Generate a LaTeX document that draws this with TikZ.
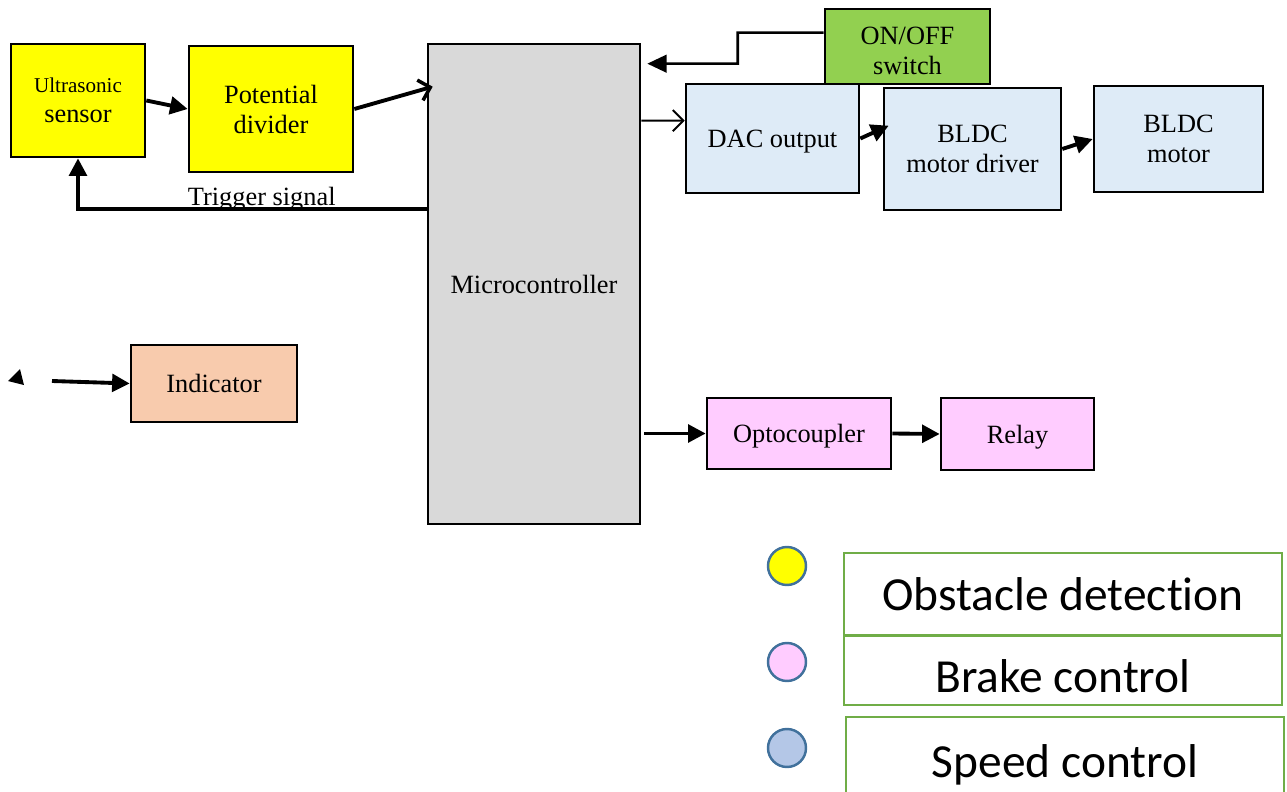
\documentclass[tikz,border=0pt]{standalone}
\usepackage{fontspec}
\setmainfont{Liberation Serif}
\newfontfamily\legendfont[Ligatures=NoCommon]{Carlito}
\usetikzlibrary{arrows.meta, positioning, calc}
\definecolor{sensyellow}{RGB}{255, 255, 0}
\definecolor{mcugray}{RGB}{217, 217, 217}
\definecolor{swgreen}{RGB}{146, 208, 80}
\definecolor{speedblue}{RGB}{222, 235, 247}
\definecolor{indpeach}{RGB}{248, 203, 173}
\definecolor{brakepink}{RGB}{255, 204, 255}
\definecolor{dotblue}{RGB}{180, 199, 231}
\definecolor{dotedge}{RGB}{65, 113, 156}
\definecolor{keygreen}{RGB}{112, 173, 71}
\tikzset{
  blockbox/.style={draw=black, line width=1.5pt, align=center, inner sep=2pt,
    text depth=0pt, font=\fontsize{15}{17}\selectfont},
  thickarrow/.style={line width=2.2pt, -{Triangle[length=10pt, width=10pt]}},
  barbarrow/.style={line width=2.2pt, -{Straight Barb[length=6pt, width=12pt, line width=2pt]}},
  thinbarb/.style={line width=1.1pt, -{Straight Barb[length=6pt, width=12pt, line width=1.1pt]}},
  keybox/.style={draw=keygreen, line width=1.3pt, minimum width=87.6mm, text depth=0pt,
    font=\legendfont\fontsize{27}{30}\selectfont},
  keydot/.style={circle, draw=dotedge, line width=1.4pt, minimum size=7.6mm, inner sep=0pt}
}
\begin{document}
\begin{tikzpicture}[x=0.2mm, y=-0.2mm]
  \useasboundingbox (0,0) rectangle (1287,792);
  \node[blockbox, fill=sensyellow, minimum width=26.8mm, minimum height=22.6mm] (sens) at (78,100.5)
    {{\fontsize{12}{14}\selectfont Ultrasonic}\\sensor};
  \node[blockbox, fill=sensyellow, minimum width=32.8mm, minimum height=25.2mm] (div) at (271,109)
    {Potential\\divider};
  \node[blockbox, fill=mcugray, minimum width=42.4mm, minimum height=96mm] (mcu) at (534,284)
    {Microcontroller};
  \node[blockbox, fill=swgreen, minimum width=33mm, minimum height=15mm] (sw) at (907.5,46.5)
    {\rule{0pt}{15pt}ON/OFF\\switch};
  \node[blockbox, fill=speedblue, minimum width=34.6mm, minimum height=21.8mm] (dac) at (772.5,138.5)
    {DAC output};
  \node[blockbox, fill=speedblue, minimum width=35.4mm, minimum height=24.4mm] (drv) at (972.5,149)
    {BLDC\\motor driver};
  \node[blockbox, fill=speedblue, minimum width=33.8mm, minimum height=21.2mm] (mot) at (1178.5,139)
    {BLDC\\motor};
  \node[blockbox, fill=indpeach, minimum width=33.2mm, minimum height=15.4mm] (ind) at (214,383.5)
    {Indicator};
  \node[blockbox, fill=brakepink, minimum width=36.8mm, minimum height=14.2mm] (opto) at (799,433.5)
    {Optocoupler};
  \node[blockbox, fill=brakepink, minimum width=30.6mm, minimum height=14.4mm] (relay) at (1017.5,434)
    {Relay};

  \draw[thickarrow] (sens.east) -- (div.west);
  \draw[barbarrow] (div.east) -- ($(mcu.north west)+(6,44)$);
  \draw[thickarrow] ($(mcu.north west)+(2,166)$) -| (sens.south)
    node[pos=0.238, above=-6pt, font=\fontsize{15}{17}\selectfont] (trig) {Trigger signal};
  \draw[line width=1.5pt, -{Triangle[length=11pt, width=10pt]}] ($(sw.north west)+(0,25)$)
    -| ($(sw.north west)+(-86,56)$) -- ($(mcu.north east)+(6,21)$);
  \draw[thinbarb] ($(mcu.north east)+(0,78)$) -- ($(dac.north west)+(0,38)$);
  \draw[thickarrow] (dac.east) -- ($(drv.north west)+(6,39)$);
  \draw[thickarrow] (drv.east) -- (mot.west);
  \draw[thickarrow] ($(mcu.east |- opto.west)+(3,0)$) -- (opto.west);
  \draw[thickarrow] (opto.east) -- (relay.west);
  \coordinate (indsrc) at (52,381);
  \draw[thickarrow] (indsrc) -- (ind.west);
  \fill (20,369) -- (8,381) -- (24,385) -- cycle;

  \node[keydot, fill=sensyellow] (dot1) at (787,566) {};
  \node[keydot, fill=brakepink] (dot2) at (787,662) {};
  \node[keydot, fill=dotblue] (dot3) at (787,748) {};
  \node[keybox, minimum height=16.4mm] (key1) at (1063,594) {Obstacle detection};
  \node[keybox, minimum height=13.8mm, text height=25pt] (key2) at (1063,670.5) {Brake control};
  \node[keybox, minimum height=16mm, text height=23pt] (key3) at (1065,757) {Speed control};
\end{tikzpicture}
\end{document}
